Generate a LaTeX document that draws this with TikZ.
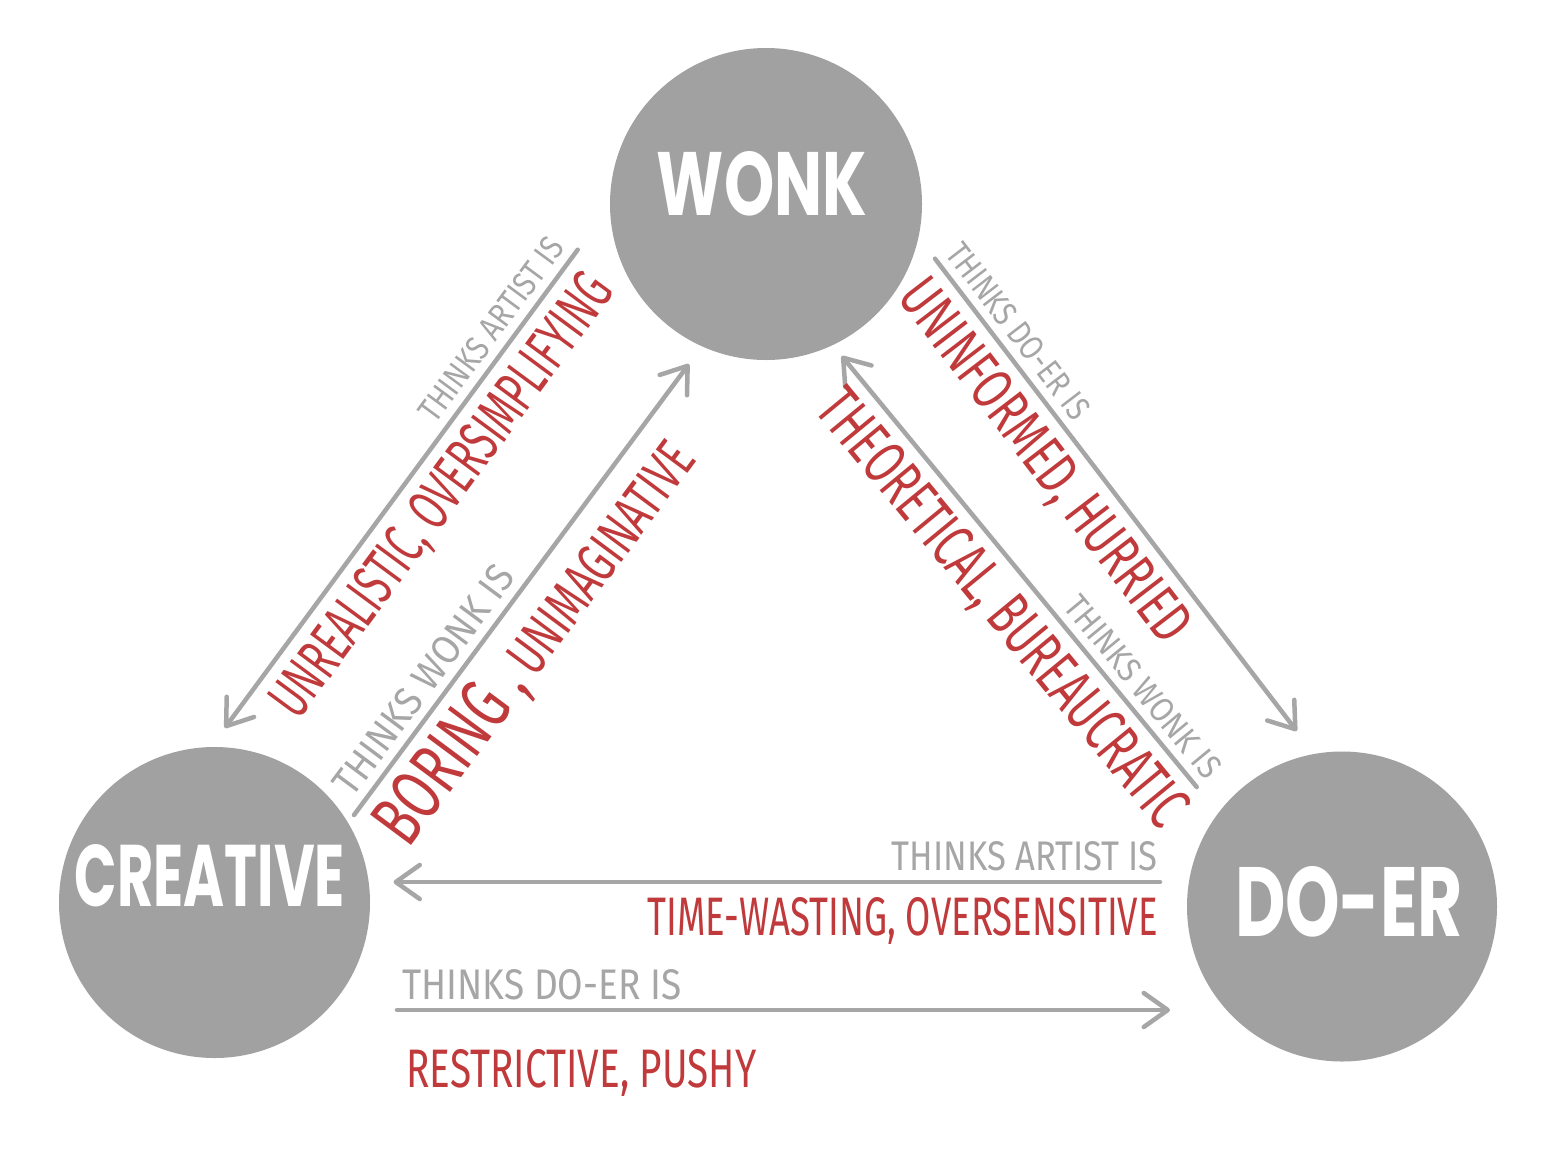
\documentclass[tikz,border=0pt]{standalone}
\usepackage{fontspec}
\usepackage{graphicx}
\usetikzlibrary{arrows.meta}
\newfontfamily\labfont{Fira Sans}
\newfontfamily\circfont{Poppins}
\definecolor{circgray}{RGB}{161,161,161}
\definecolor{arrgray}{RGB}{166,166,166}
\definecolor{redlab}{RGB}{192,58,60}
\newcommand{\lab}[3]{\resizebox{#1pt}{#2pt}{\labfont #3}}
\newcommand{\circlab}[3]{\resizebox{#1pt}{#2pt}{\circfont\bfseries #3}}
\begin{document}
\begin{tikzpicture}[x=1pt,y=-1pt,
  bubble/.style={circle, fill=circgray, draw=none, minimum size=#1, inner sep=0pt},
  bubtext/.style={text=white, inner sep=0pt},
  conn/.style={draw=arrgray, line width=4.5pt, line cap=round, line join=round},
  headend/.style={arrows={-Straight Barb[length=24pt,width=34pt,round]}},
  headstart/.style={arrows={Straight Barb[length=24pt,width=34pt,round]-}},
  graylab/.style={text=arrgray, inner xsep=0pt, inner ysep=#1, sloped, above},
  redlabel/.style={text=redlab, inner xsep=0pt, inner ysep=#1, sloped, below},
]
\fill[white] (0,0) rectangle (1558,1160);
\useasboundingbox (0,0) rectangle (1558,1160);

% bubbles
\node[bubble=312pt] (wonk) at (766,204) {};
\node[bubble=311pt] (creative) at (214.5,902.5) {};
\node[bubble=310pt] (doer) at (1342,906.5) {};
\node[bubtext] (wonkt) at (762,184) {\circlab{210}{64}{WONK}};
\node[bubtext] (creativet) at (210,876) {\circlab{270}{62}{CREATIVE}};
\node[bubtext] (doert) at (1349,902) {\circlab{228}{70}{DO-ER}};

% connector end points
\coordinate (l1top) at (577.7,249.7);
\coordinate (l1tip) at (224.8,728);
\coordinate (l2bot) at (354,815);
\coordinate (l2tip) at (689,364);
\coordinate (l3top) at (935,258.7);
\coordinate (l3tip) at (1296.7,731);
\coordinate (l4tip) at (841.7,356);
\coordinate (l4bot) at (1196.7,787);
\coordinate (l5tip) at (393.5,882);
\coordinate (l5start) at (1160,882);
\coordinate (l6start) at (397,1010);
\coordinate (l6tip) at (1170,1010);

% wonk -> creative
\draw[conn, headstart] (l1tip) -- (l1top)
  node[graylab=8pt, pos=0.806] (g1) {\lab{220}{24}{THINKS ARTIST IS}}
  node[redlabel=11pt, pos=0.531] (r1) {\lab{534}{42}{UNREALISTIC, OVERSIMPLIFYING}};

% creative -> wonk
\draw[conn, headend] (l2bot) -- (l2tip)
  node[graylab=8pt, pos=0.267] (g2) {\lab{275}{28}{THINKS WONK IS}}
  node[redlabel=10pt, pos=0.441] (r2) {\resizebox{485pt}{52pt}{\labfont\fontsize{13}{13}\selectfont BORING ,\fontsize{10}{10}\selectfont{} UNIMAGINATIVE}};

% wonk -> doer
\draw[conn, headend] (l3top) -- (l3tip)
  node[graylab=8pt, pos=0.182] (g3) {\lab{212}{24}{THINKS DO-ER IS}}
  node[redlabel=10pt, pos=0.383] (r3) {\lab{440}{42}{UNINFORMED, HURRIED}};

% doer -> wonk
\draw[conn, headstart] (l4tip) -- (l4bot)
  node[graylab=8pt, pos=0.80] (g4) {\lab{225}{24}{THINKS WONK IS}}
  node[redlabel=10pt, pos=0.532] (r4) {\lab{545}{44}{THEORETICAL, BUREAUCRATIC}};

% doer -> creative
\draw[conn, headstart] (l5tip) -- (l5start)
  node[text=arrgray, pos=1, anchor=south east, inner xsep=0pt, inner ysep=9pt] (g5) {\lab{266}{29}{THINKS ARTIST IS}}
  node[text=redlab, pos=1, anchor=north east, inner xsep=0pt, inner ysep=13pt] (r5) {\lab{510}{38}{TIME-WASTING, OVERSENSITIVE}};

% creative -> doer
\draw[conn, headend] (l6start) -- (l6tip)
  node[text=arrgray, pos=0, anchor=south west, inner xsep=3pt, inner ysep=8pt] (g6) {\lab{279}{30}{THINKS DO-ER IS}}
  node[text=redlab, pos=0, anchor=north west, inner xsep=7pt, inner ysep=37pt] (r6) {\lab{350}{38}{RESTRICTIVE, PUSHY}};
\end{tikzpicture}
\end{document}
